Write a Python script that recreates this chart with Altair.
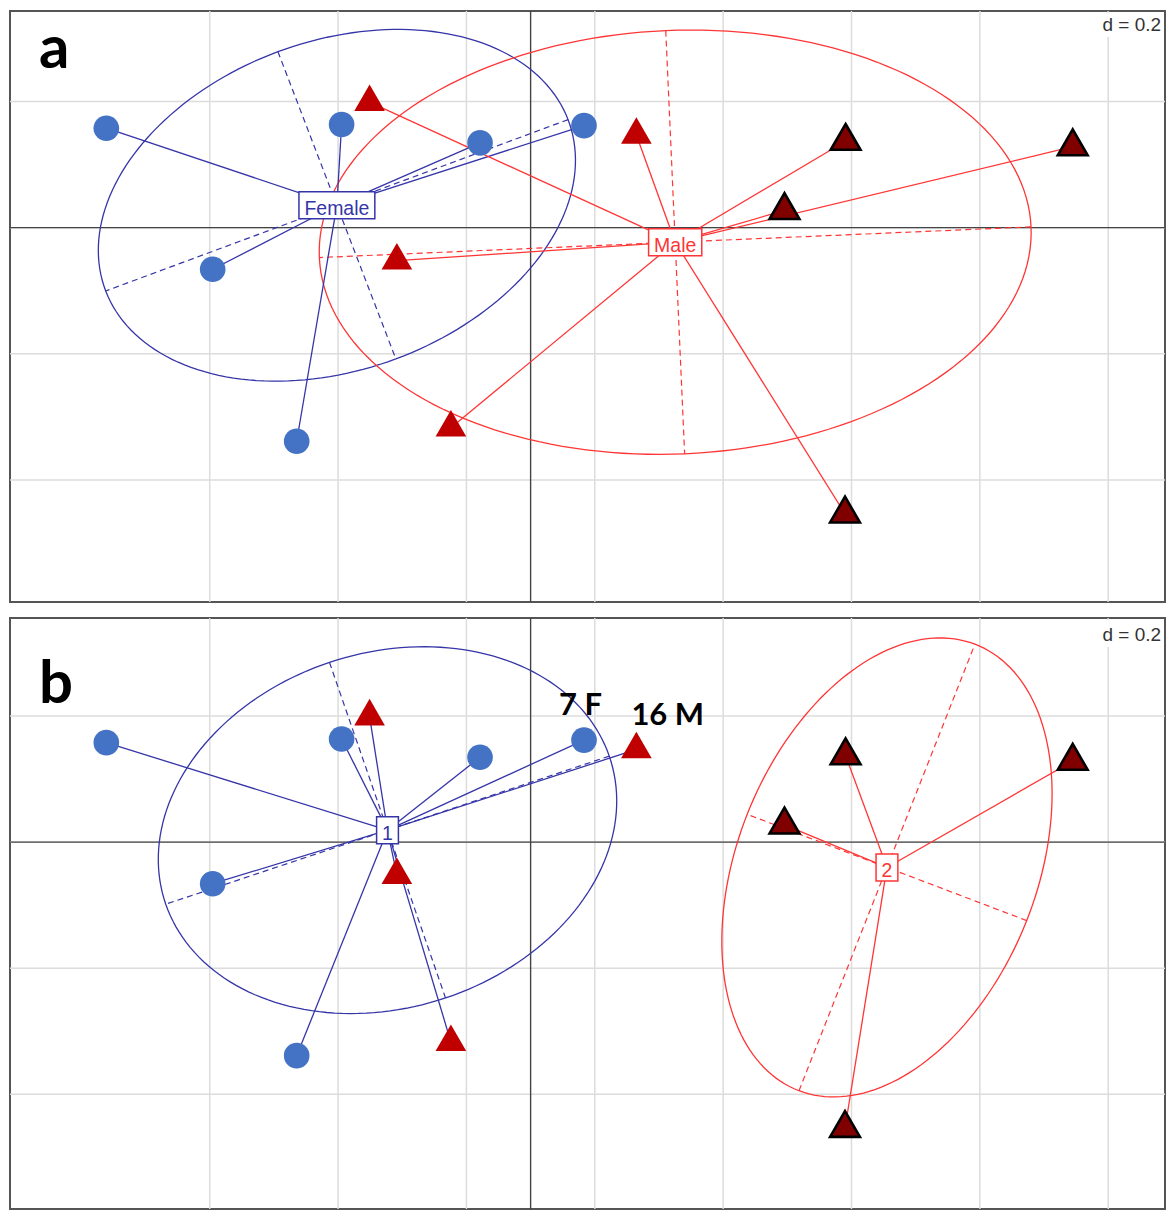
import numpy as np
import pandas as pd
import altair as alt

# ---------------- data ----------------
# coordinates of the 14 individuals on the two first axes
pc1 = [-0.6611, -0.2945, -0.0788, 0.0832, -0.4954, -0.3645,
       -0.2509, 0.1648, -0.2084, -0.1242,
       0.4908, 0.8447, 0.3956, 0.4899]
pc2 = [0.1577, 0.1635, 0.1345, 0.1618, -0.0660, -0.3387,
       0.1991, 0.1469, -0.0524, -0.3172,
       0.1371, 0.1284, 0.0274, -0.4538]
sex = ["Female"] * 6 + ["Male"] * 8
cluster = ["1"] * 10 + ["2"] * 4

annot_index = [3, 7]
annot_text = ["7 F", "16 M"]

grid_x = [-0.5, -0.3, -0.1, 0.1, 0.3, 0.5, 0.7, 0.9]
grid_y = [0.2, 0.0, -0.2, -0.4]
grid_step_label = "d = 0.2"
panel_letters = ["a", "b"]

# ---------------- styles ----------------
BLUE = "#3535A8"
RED = "#FF3535"
CIRCLE = "#4472C4"
TRI = "#C00000"
TRI_DARK = "#800000"
GRID = "#DCDCDC"
AXIS = "#444444"
W, H = 1157, 592
XDOM = [-0.8112, (8 + W - 529.5) / 642.9]
TRI_PATH = "M0,-1L0.866,0.5L-0.866,0.5Z"
ARIAL_W = {"F": 0.611, "e": 0.556, "m": 0.833, "a": 0.556, "l": 0.222,
           "M": 0.833, "1": 0.556, "2": 0.556}

pts = pd.DataFrame({"x": pc1, "y": pc2, "sex": sex, "cluster": cluster})
pts["kind"] = np.where(pts.sex == "Female", "F",
                       np.where(pts.cluster == "1", "M1", "M2"))


def stats(groupcol):
    ell, axes, stars, cents = [], [], [], []
    for name, sub in pts.groupby(groupcol, sort=True):
        mx, my = sub.x.mean(), sub.y.mean()
        vx = ((sub.x - mx) ** 2).mean()
        vy = ((sub.y - my) ** 2).mean()
        cxy = ((sub.x - mx) * (sub.y - my)).mean()
        w, v = np.linalg.eigh(np.array([[vx, cxy], [cxy, vy]]))
        a, b = 1.5 * np.sqrt(w[1]), 1.5 * np.sqrt(max(w[0], 0))
        u, vv = v[:, 1], v[:, 0]
        for i, t in enumerate(np.linspace(0, 2 * np.pi, 181)):
            ell.append({"group": name, "t": i,
                        "x": mx + a * np.cos(t) * u[0] + b * np.sin(t) * vv[0],
                        "y": my + a * np.cos(t) * u[1] + b * np.sin(t) * vv[1]})
        for s, vec in ((a, u), (b, vv)):
            axes.append({"group": name, "x": mx - s * vec[0], "y": my - s * vec[1],
                         "x2": mx + s * vec[0], "y2": my + s * vec[1]})
        for _, r in sub.iterrows():
            stars.append({"group": name, "x": mx, "y": my, "x2": r.x, "y2": r.y})
        tw = sum(ARIAL_W.get(c, 0.55) for c in str(name)) * 19.5
        bw, bh = tw + 11, 27.0
        cents.append({"group": name, "x": mx, "y": my,
                      "shape": f"M-1,{-bh/bw:.4f}L1,{-bh/bw:.4f}L1,{bh/bw:.4f}L-1,{bh/bw:.4f}Z",
                      "size": bw * bw})
    return (pd.DataFrame(ell), pd.DataFrame(axes), pd.DataFrame(stars),
            pd.DataFrame(cents))


def panel(groupcol, ydom, letter, letter_y, d_y, annotate):
    ell, axes, stars, cents = stats(groupcol)
    groups = sorted(pts[groupcol].unique())
    xs = alt.Scale(domain=XDOM, nice=False, zero=False)
    ys = alt.Scale(domain=ydom, nice=False, zero=False)
    X = lambda f="x": alt.X(f"{f}:Q", scale=xs, axis=None)
    Y = lambda f="y": alt.Y(f"{f}:Q", scale=ys, axis=None)
    col = alt.Color("group:N", scale=alt.Scale(domain=groups, range=[BLUE, RED]),
                    legend=None)
    stk = alt.Stroke("group:N", scale=alt.Scale(domain=groups, range=[BLUE, RED]),
                     legend=None)

    layers = [
        alt.Chart(pd.DataFrame({"gx": grid_x})).mark_rule(color=GRID, strokeWidth=1.5)
        .encode(x=alt.X("gx:Q", scale=xs, axis=None)),
        alt.Chart(pd.DataFrame({"gy": grid_y})).mark_rule(color=GRID, strokeWidth=1.5)
        .encode(y=alt.Y("gy:Q", scale=ys, axis=None)),
        alt.Chart(pd.DataFrame({"z": [0.0]})).mark_rule(color=AXIS, strokeWidth=1.4)
        .encode(x=alt.X("z:Q", scale=xs, axis=None)),
        alt.Chart(pd.DataFrame({"z": [0.0]})).mark_rule(color=AXIS, strokeWidth=1.4)
        .encode(y=alt.Y("z:Q", scale=ys, axis=None)),
        alt.Chart(ell).mark_line(strokeWidth=1.3)
        .encode(x=X(), y=Y(), order="t:Q", detail="group:N", color=col),
        alt.Chart(axes).mark_rule(strokeWidth=1.2, strokeDash=[6, 4])
        .encode(x=X(), y=Y(), x2="x2:Q", y2="y2:Q", color=col),
        alt.Chart(stars).mark_rule(strokeWidth=1.3)
        .encode(x=X(), y=Y(), x2="x2:Q", y2="y2:Q", color=col),
        alt.Chart(pts[pts.kind == "F"]).mark_point(
            shape="circle", filled=True, size=660, color=CIRCLE, opacity=1)
        .encode(x=X(), y=Y()),
        alt.Chart(pts[pts.kind == "M1"]).mark_point(
            shape=TRI_PATH, filled=True, size=1257, color=TRI, opacity=1)
        .encode(x=X(), y=Y()),
        alt.Chart(pts[pts.kind == "M2"]).mark_point(
            shape=TRI_PATH, filled=True, size=1190, fill=TRI_DARK, stroke="black",
            strokeWidth=2.6, opacity=1)
        .encode(x=X(), y=Y()),
        alt.Chart(cents).mark_point(filled=True, fill="white", strokeWidth=1.5,
                                    opacity=1)
        .encode(x=X(), y=Y(), stroke=stk,
                shape=alt.Shape("shape:N", scale=None, legend=None),
                size=alt.Size("size:Q", scale=None, legend=None)),
        alt.Chart(cents).mark_text(font="Liberation Sans", fontSize=19.5,
                                   baseline="alphabetic", dy=9.5)
        .encode(x=X(), y=Y(), text="group:N", color=col),
        alt.Chart(pd.DataFrame({"d": [grid_step_label]})).mark_rect(color="white")
        .encode(x=alt.value(1088), x2=alt.value(W - 1), y=alt.value(2),
                y2=alt.value(d_y + 6)),
        alt.Chart(pd.DataFrame({"d": [grid_step_label]})).mark_text(
            font="Liberation Sans", fontSize=19, color="#333333", align="right",
            baseline="alphabetic")
        .encode(x=alt.value(W - 4), y=alt.value(d_y), text="d:N"),
        alt.Chart(pd.DataFrame({"l": [letter]})).mark_text(
            font="Lato", fontWeight="bold", fontSize=60, color="black", align="left",
            baseline="alphabetic")
        .encode(x=alt.value(29), y=alt.value(letter_y), text="l:N"),
    ]
    if annotate:
        for idx, txt, dx in zip(annot_index, annot_text, [-25, -5]):
            row = pts.iloc[[idx]].assign(lab=txt)
            layers.append(
                alt.Chart(row).mark_text(font="Lato", fontWeight="bold", fontSize=31,
                                         color="black", align="left",
                                         baseline="alphabetic", dx=dx, dy=-25)
                .encode(x=X(), y=Y(), text="lab:N"))
    return alt.layer(*layers).properties(width=W, height=H)


pa = panel("sex", [-0.5936, 0.3435], panel_letters[0], 57, 20, False)
pb = panel("cluster", [-0.5818, 0.3554], panel_letters[1], 85, 23, True)

chart = (alt.vconcat(pa, pb, spacing=12)
         .properties(padding=0)
         .configure_view(stroke="#555555", strokeWidth=2))

chart.save("out.html", embed_options={"renderer": "svg", "actions": False})
